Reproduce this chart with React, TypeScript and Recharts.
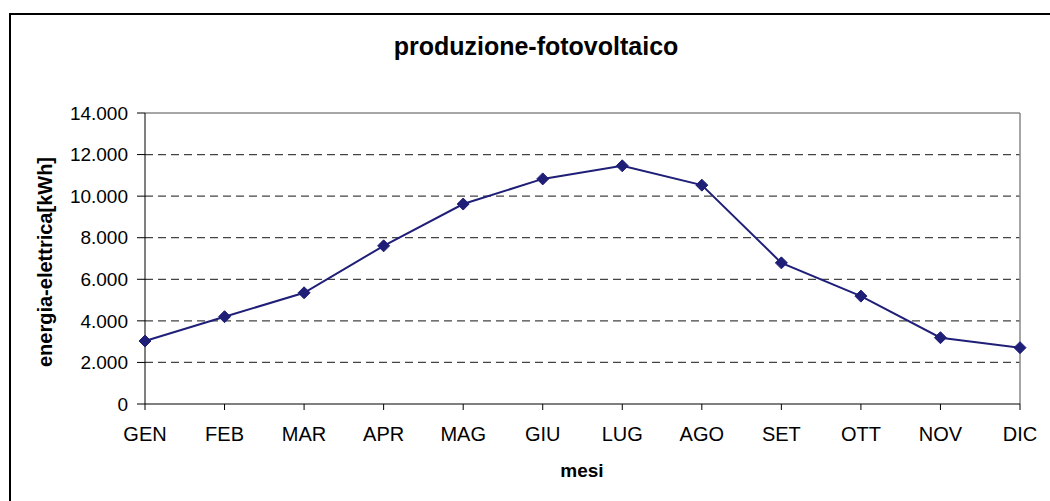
import React from "react";
import {
  LineChart,
  Line,
  XAxis,
  YAxis,
  CartesianGrid,
  ReferenceLine,
} from "recharts";

const mesi = ["GEN", "FEB", "MAR", "APR", "MAG", "GIU", "LUG", "AGO", "SET", "OTT", "NOV", "DIC"];
const energia = [3030, 4200, 5350, 7610, 9620, 10830, 11460, 10530, 6790, 5190, 3190, 2710];
const yTicks = [0, 2000, 4000, 6000, 8000, 10000, 12000, 14000];

const data = mesi.map((m, i) => ({ mese: m, energia: energia[i] }));

const FONT = '"Liberation Sans", Arial, sans-serif';
const NAVY = "#1f1f78";

// 14000 -> "14.000"
function formatKwh(v: number) {
  if (v < 1000) return String(v);
  return `${Math.floor(v / 1000)}.${String(v % 1000).padStart(3, "0")}`;
}

function Diamond(props: any) {
  const { cx, cy, index } = props;
  if (cx == null || cy == null) return null;
  const r = 6;
  return (
    <polygon
      key={`d-${index}`}
      points={`${cx},${cy - r} ${cx + r},${cy} ${cx},${cy + r} ${cx - r},${cy}`}
      fill={NAVY}
      stroke={NAVY}
    />
  );
}

export default function App() {
  return (
    <div
      style={{
        position: "absolute",
        left: 0,
        top: 0,
        width: 1050,
        height: 501,
        overflow: "hidden",
        background: "#fff",
        fontFamily: FONT,
      }}
    >
      {/* chart area frame */}
      <div
        style={{
          position: "absolute",
          left: 9,
          top: 13,
          width: 1100,
          height: 600,
          border: "2px solid #000",
        }}
      />
      <div
        style={{
          position: "absolute",
          left: 0,
          width: 1072,
          top: 32,
          textAlign: "center",
          fontSize: 25,
          fontWeight: "bold",
          color: "#000",
        }}
      >
        produzione-fotovoltaico
      </div>
      <div
        style={{
          position: "absolute",
          left: 45,
          top: 262,
          transform: "translate(-50%, -50%) rotate(-90deg)",
          whiteSpace: "nowrap",
          fontSize: 20,
          fontWeight: "bold",
          color: "#000",
        }}
      >
        energia-elettrica[kWh]
      </div>
      <div
        style={{
          position: "absolute",
          left: 582,
          top: 471,
          transform: "translate(-50%, -50%)",
          fontSize: 19,
          fontWeight: "bold",
          color: "#000",
        }}
      >
        mesi
      </div>

      <div style={{ position: "absolute", left: 0, top: 0 }}>
        <LineChart
          width={1050}
          height={501}
          data={data}
          margin={{ top: 113, right: 30, bottom: 57, left: 65 }}
        >
          <CartesianGrid
            vertical={false}
            horizontalValues={yTicks.slice(1, -1)}
            stroke="#444"
            strokeWidth={1.2}
            strokeDasharray="8 5"
          />
          <ReferenceLine y={14000} stroke="#888" strokeWidth={1.5} />
          <ReferenceLine x="DIC" stroke="#888" strokeWidth={1.5} />
          <XAxis
            dataKey="mese"
            height={40}
            stroke="#000"
            tickSize={6}
            tickMargin={17}
            tick={{ fill: "#000", fontSize: 20, fontFamily: FONT }}
            interval={0}
          />
          <YAxis
            width={80}
            domain={[0, 14000]}
            ticks={yTicks}
            stroke="#000"
            tickSize={8}
            tickMargin={9}
            tickFormatter={formatKwh}
            tick={{ fill: "#000", fontSize: 19, fontFamily: FONT }}
          />
          <Line
            type="linear"
            dataKey="energia"
            stroke={NAVY}
            strokeWidth={2}
            dot={Diamond}
            activeDot={false}
            isAnimationActive={false}
          />
        </LineChart>
      </div>
    </div>
  );
}
